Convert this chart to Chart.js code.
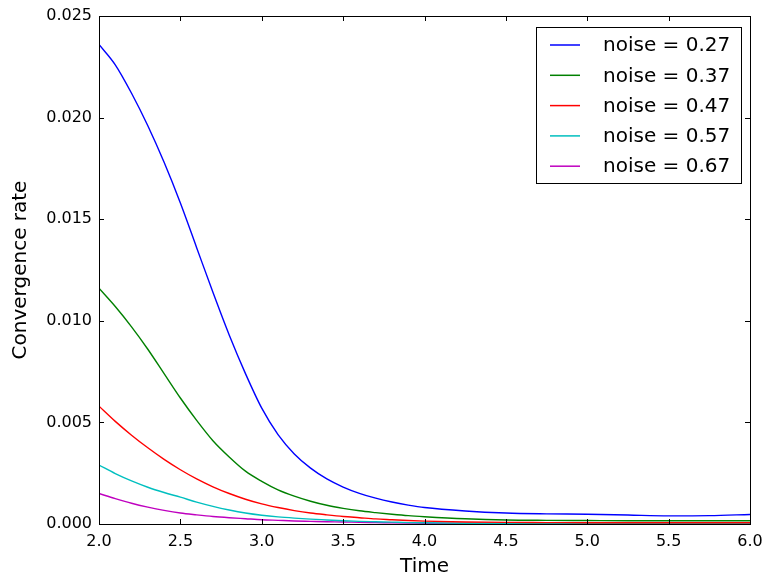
<!DOCTYPE html>
<html>
<head>
<meta charset="utf-8">
<script src="https://cdn.jsdelivr.net/npm/chart.js@4.4.1/dist/chart.umd.min.js"></script>
<style>
  html, body { margin: 0; padding: 0; background: #fff; }
  #wrap { width: 766px; height: 580px; }
</style>
</head>
<body>
<div id="wrap"><canvas id="chart" width="766" height="580"></canvas></div>
<script>
// time axis samples
const times = [2.0, 2.1, 2.2, 2.3, 2.4, 2.5, 2.6, 2.7, 2.8, 2.9,
  3.0, 3.1, 3.2, 3.3, 3.4, 3.5, 3.6, 3.7, 3.8, 3.9,
  4.0, 4.25, 4.5, 4.75, 5.0, 5.25, 5.5, 5.75, 6.0];

const noiseLabels = ["noise = 0.27", "noise = 0.37", "noise = 0.47", "noise = 0.57", "noise = 0.67"];
const colors = ["#0000ff", "#008000", "#ff0000", "#00bfbf", "#bf00bf"];

const rate027 = [0.0236, 0.0226, 0.0212, 0.0196, 0.0178, 0.0158, 0.0136, 0.0114, 0.0093, 0.0074,
  0.0057, 0.0044, 0.00345, 0.00275, 0.00222, 0.00182, 0.00151, 0.00127, 0.00108, 0.00093,
  0.00081, 0.00064, 0.00054, 0.0005, 0.00048, 0.00044, 0.0004, 0.00041, 0.00047];
const rate037 = [0.0116, 0.0107, 0.0097, 0.0086, 0.0074, 0.0062, 0.0051, 0.0041, 0.0033, 0.0026,
  0.0021, 0.00168, 0.00137, 0.00112, 0.00092, 0.00077, 0.00065, 0.00056, 0.00048, 0.00041,
  0.00036, 0.00026, 0.0002, 0.00018, 0.00017, 0.00016, 0.00016, 0.00016, 0.00016];
const rate047 = [0.0058, 0.00505, 0.00437, 0.00375, 0.00318, 0.00267, 0.00222, 0.00183, 0.0015, 0.00122,
  0.00099, 0.00081, 0.00066, 0.00054, 0.00045, 0.00037, 0.00031, 0.00025, 0.00021, 0.00017,
  0.00014, 0.0001, 0.00008, 0.00007, 0.00006, 0.00006, 0.00006, 0.00006, 0.00006];
const rate057 = [0.0029, 0.00248, 0.00212, 0.00181, 0.00155, 0.00132, 0.00108, 0.00087, 0.00069, 0.00054,
  0.00043, 0.00035, 0.00029, 0.00024, 0.0002, 0.00016, 0.00013, 0.00011, 0.00009, 0.00007,
  0.00006, 0.00004, 0.00003, 0.00003, 0.00003, 0.00003, 0.00003, 0.00003, 0.00003];
const rate067 = [0.0015, 0.00125, 0.00102, 0.00083, 0.00067, 0.00054, 0.00045, 0.00037, 0.00031, 0.00026,
  0.00021, 0.00018, 0.00015, 0.00013, 0.00011, 0.0001, 0.00008, 0.00007, 0.00006, 0.00005,
  0.00004, 0.00003, 0.00002, 0.00002, 0.00002, 0.00002, 0.00002, 0.00002, 0.00002];

const series = [rate027, rate037, rate047, rate057, rate067];

const font = "'DejaVu Sans', sans-serif";

// frame + inward ticks on all four sides, matplotlib style
const framePlugin = {
  id: "frame",
  afterDatasetsDraw(chart) {
    const { ctx, chartArea: a, scales } = chart;
    const len = 5;
    ctx.save();
    ctx.strokeStyle = "#000";
    ctx.lineWidth = 1;
    ctx.beginPath();
    scales.x.ticks.forEach((t) => {
      const px = Math.round(scales.x.getPixelForValue(t.value)) + 0.5;
      ctx.moveTo(px, a.bottom); ctx.lineTo(px, a.bottom - len);
      ctx.moveTo(px, a.top); ctx.lineTo(px, a.top + len);
    });
    scales.y.ticks.forEach((t) => {
      const py = Math.round(scales.y.getPixelForValue(t.value)) + 0.5;
      ctx.moveTo(a.left, py); ctx.lineTo(a.left + len, py);
      ctx.moveTo(a.right, py); ctx.lineTo(a.right - len, py);
    });
    ctx.stroke();
    ctx.strokeRect(Math.round(a.left) + 0.5, Math.round(a.top) + 0.5,
      Math.round(a.right - a.left), Math.round(a.bottom - a.top));
    ctx.restore();
  },
};

// boxed legend in the upper right of the plot
const boxLegend = {
  id: "boxLegend",
  afterDraw(chart) {
    const { ctx, chartArea: a } = chart;
    const w = 205, h = 156, rowH = 30.3;
    const x0 = a.right - 9 - w, y0 = a.top + 11;
    ctx.save();
    ctx.fillStyle = "#fff";
    ctx.fillRect(x0, y0, w, h);
    ctx.strokeStyle = "#000";
    ctx.lineWidth = 1;
    ctx.strokeRect(Math.round(x0) + 0.5, Math.round(y0) + 0.5, w, h);
    ctx.font = "20px " + font;
    ctx.textBaseline = "middle";
    chart.data.datasets.forEach((ds, i) => {
      const y = y0 + 18 + i * rowH;
      ctx.strokeStyle = ds.borderColor;
      ctx.lineWidth = 1.5;
      ctx.beginPath();
      ctx.moveTo(x0 + 14, y);
      ctx.lineTo(x0 + 44, y);
      ctx.stroke();
      ctx.fillStyle = "#000";
      ctx.fillText(ds.label, x0 + 67, y + 1);
    });
    ctx.restore();
  },
};

new Chart(document.getElementById("chart"), {
  type: "line",
  data: {
    datasets: series.map((vals, i) => ({
      label: noiseLabels[i],
      data: times.map((t, j) => ({ x: t, y: vals[j] })),
      borderColor: colors[i],
      backgroundColor: colors[i],
      borderWidth: 1.4,
      pointRadius: 0,
      cubicInterpolationMode: "monotone",
      fill: false,
    })),
  },
  options: {
    responsive: false,
    animation: false,
    layout: { padding: { top: 16, right: 16, left: 0, bottom: 0 } },
    plugins: { legend: { display: false }, tooltip: { enabled: false } },
    scales: {
      x: {
        type: "linear",
        min: 2, max: 6,
        afterFit: (s) => { s.height = 56; s.paddingLeft = 0; s.paddingRight = 0; },
        grid: { display: false, drawTicks: false },
        border: { display: false },
        ticks: {
          stepSize: 0.5,
          color: "#000",
          padding: 8,
          maxRotation: 0,
          font: { family: font, size: 16 },
          callback: (v) => v.toFixed(1),
        },
        title: {
          display: true,
          text: "Time",
          color: "#000",
          font: { family: font, size: 20 },
          padding: { top: 0, bottom: 1 },
        },
      },
      y: {
        min: 0, max: 0.025,
        afterFit: (s) => { s.width = 99; s.paddingTop = 0; s.paddingBottom = 0; },
        grid: { display: false, drawTicks: false },
        border: { display: false },
        ticks: {
          stepSize: 0.005,
          color: "#000",
          padding: 7,
          font: { family: font, size: 16 },
          callback: (v) => v.toFixed(3),
        },
        title: {
          display: true,
          text: "Convergence rate",
          color: "#000",
          font: { family: font, size: 20 },
          padding: { top: 9, bottom: 0 },
        },
      },
    },
  },
  plugins: [framePlugin, boxLegend],
});
</script>
</body>
</html>
